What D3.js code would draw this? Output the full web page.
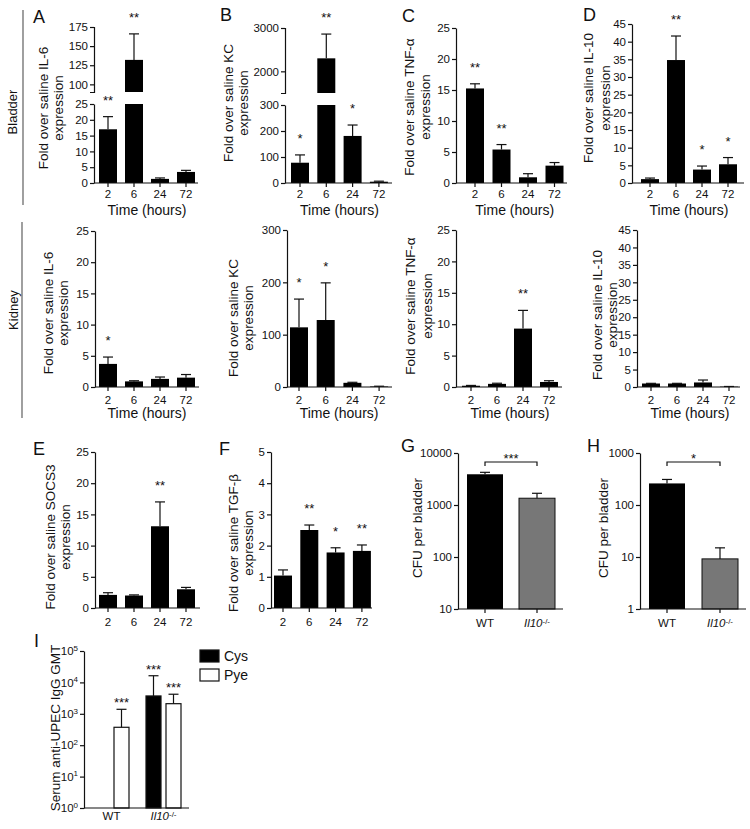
<!DOCTYPE html>
<html><head><meta charset="utf-8">
<script src="https://cdn.jsdelivr.net/npm/d3@7"></script>
<style>
body{margin:0;background:#fff}
svg{display:block}
text{font-family:"Liberation Sans",Arial,Helvetica,sans-serif;fill:#111}
</style>
</head><body><svg id="c" width="750" height="829"></svg>
<script>
// ---------------- DATA ----------------
const times = ["2","6","24","72"];
const timeTicks25 = [0,5,10,15,20,25];
const timeTicks45 = [0,5,10,15,20,25,30,35,40,45];
const ticksKC = [0,100,200,300];
const ticksIL6Upper = [100,125,150,175];
const ticksKCUpper = [2000,3000];
const ticksTGF = [0,1,2,3,4,5];

// Bladder
const bladderIL6 = [17.0, 132, 1.3, 3.5];
const bladderIL6Err = [21.0, 166, 1.6, 4.0];
const bladderIL6Sig = ["**","**","",""];
const bladderKC = [78, 2300, 181, 5];
const bladderKCErr = [108, 2860, 223, 7];
const bladderKCSig = ["*","**","*",""];
const bladderTNF = [15.25, 5.4, 0.92, 2.8];
const bladderTNFErr = [16.0, 6.2, 1.5, 3.3];
const bladderTNFSig = ["**","**","",""];
const bladderIL10 = [1.1, 34.8, 3.8, 5.3];
const bladderIL10Err = [1.4, 41.6, 4.8, 7.2];
const bladderIL10Sig = ["","**","*","*"];
// Kidney
const kidneyIL6 = [3.7, 0.9, 1.3, 1.5];
const kidneyIL6Err = [4.8, 1.0, 1.6, 2.0];
const kidneyIL6Sig = ["*","","",""];
const kidneyKC = [114, 128, 8, 1];
const kidneyKCErr = [168, 199, 9, 1.5];
const kidneyKCSig = ["*","*","",""];
const kidneyTNF = [0.2, 0.5, 9.3, 0.8];
const kidneyTNFErr = [0.25, 0.6, 12.2, 1.0];
const kidneyTNFSig = ["","","**",""];
const kidneyIL10 = [1.0, 1.0, 1.3, 0.1];
const kidneyIL10Err = [1.05, 1.05, 2.0, 0.15];
const kidneyIL10Sig = ["","","",""];
// E, F
const socs3 = [2.1, 2.0, 13.1, 3.0];
const socs3Err = [2.45, 2.1, 17.0, 3.3];
const socs3Sig = ["","","**",""];
const tgfb = [1.04, 2.5, 1.78, 1.83];
const tgfbErr = [1.22, 2.66, 1.93, 2.02];
const tgfbSig = ["","**","*","**"];
// G, H
const genotypes = ["WT","Il10"];
const cfuG = [3900, 1350];
const cfuGErr = [4250, 1680];
const cfuGSig = "***";
const cfuH = [260, 9.2];
const cfuHErr = [310, 15];
const cfuHSig = "*";
const ticksG = [10,100,1000,10000];
const ticksH = [1,10,100,1000];
// I
const isotypes = ["Cys","Pye"];
const gmtCys = [null, 3700];
const gmtCysErr = [null, 16300];
const gmtCysSig = ["","***"];
const gmtPye = [372, 2100];
const gmtPyeErr = [1390, 4200];
const gmtPyeSig = ["***","***"];
const ticksI = [1,10,100,1000,10000,100000];

// ---------------- DRAW ----------------
const svg = d3.select("#c");
const INK = "#111";
const SW = 1.2;
const FONT_TICK = 11.5, FONT_TITLE = 13.5, FONT_TIME = 14;
const fmtInt = d3.format("d");

function styleAxis(sel){
  sel.selectAll("path,line").attr("stroke", INK).attr("stroke-width", SW);
  sel.selectAll("text").attr("font-size", FONT_TICK).attr("fill", INK)
     .attr("font-family", '"Liberation Sans",Arial,sans-serif');
}

function rotTitle(g, lines, ax, dxs, cy){
  lines.forEach((t,i)=>{
    g.append("text").attr("transform", `translate(${ax+dxs[i]},${cy}) rotate(-90)`)
      .attr("text-anchor","middle").attr("dy","0.35em").attr("font-size", FONT_TITLE).text(t);
  });
}

function barPanel(o){
  const g = svg.append("g");
  const n = o.cats.length;
  const x = d3.scaleBand().domain(o.cats)
    .range([o.x0, o.x0 + (n-1)*o.step + o.bw])
    .paddingInner((o.step-o.bw)/o.step).paddingOuter(0);
  let lowY, hiY = null;
  if (o.brk){
    lowY = d3.scaleLinear().domain(o.brk.low).range([o.y0, o.brk.lowTop]);
    hiY = d3.scaleLinear().domain(o.brk.high).range([o.brk.hiBottom, o.brk.hiTop]);
  } else {
    lowY = (o.log ? d3.scaleLog() : d3.scaleLinear()).domain(o.domain).range([o.y0, o.yTop]);
  }
  const lowMax = lowY.domain()[1];
  const sc = v => (hiY && v > lowMax) ? hiY : lowY;
  const fills = o.fills || o.cats.map(()=>"#000");

  o.cats.forEach((c,i)=>{
    const v = o.values[i];
    if (v == null) return;
    const xc = x(c);
    if (hiY && v > lowMax){
      g.append("rect").attr("x", xc).attr("width", x.bandwidth())
        .attr("y", lowY(lowMax)).attr("height", o.y0 - lowY(lowMax)).attr("fill", fills[i]);
      g.append("rect").attr("x", xc).attr("width", x.bandwidth())
        .attr("y", hiY(v)).attr("height", hiY.range()[0] - hiY(v)).attr("fill", fills[i]);
    } else {
      g.append("rect").attr("x", xc).attr("width", x.bandwidth())
        .attr("y", lowY(v)).attr("height", o.y0 - lowY(v)).attr("fill", fills[i])
        .attr("stroke", fills[i] === "#000" ? null : INK).attr("stroke-width", fills[i] === "#000" ? null : 1);
    }
    const e = o.errs[i];
    const s = sc(v);
    const cx = xc + x.bandwidth()/2;
    const ey = sc(e)(e);
    g.append("line").attr("x1",cx).attr("x2",cx).attr("y1",s(v)).attr("y2",ey).attr("stroke",INK).attr("stroke-width",SW);
    const cw = o.capW || 5;
    g.append("line").attr("x1",cx-cw).attr("x2",cx+cw).attr("y1",ey).attr("y2",ey).attr("stroke",INK).attr("stroke-width",SW);
    if (o.sig && o.sig[i]){
      g.append("text").attr("x",cx).attr("y",ey - (o.starOff||12)).attr("text-anchor","middle")
        .attr("font-size",13).text(o.sig[i]);
    }
  });

  // y axis
  if (hiY){
    g.append("g").attr("transform",`translate(${o.ax},0)`)
      .call(d3.axisLeft(lowY).tickValues(o.ticks).tickFormat(fmtInt).tickSize(4).tickSizeOuter(0).tickPadding(2)).call(styleAxis);
    g.append("g").attr("transform",`translate(${o.ax},0)`)
      .call(d3.axisLeft(hiY).tickValues(o.brk.ticks).tickFormat(fmtInt).tickSize(4).tickSizeOuter(4).tickPadding(2)).call(styleAxis);
  } else {
    const ay = d3.axisLeft(lowY).tickValues(o.ticks).tickFormat(fmtInt).tickSize(4).tickSizeOuter(0).tickPadding(2);
    g.append("g").attr("transform",`translate(${o.ax},0)`).call(ay).call(styleAxis);
  }
  // x axis
  const xa = g.append("g").attr("transform",`translate(0,${o.y0})`)
    .call(d3.axisBottom(x).tickSize(4).tickSizeOuter(0).tickPadding(o.xpad||3)).call(styleAxis);
  xa.select(".domain").remove();
  if (o.genoLabels) genoText(xa);
  g.append("line").attr("x1",o.ax).attr("x2",o.xEnd).attr("y1",o.y0).attr("y2",o.y0)
    .attr("stroke",INK).attr("stroke-width",SW);

  rotTitle(g, o.title, o.ax, o.titleDx, o.titleCy);
  if (o.timeLabel){
    g.append("text").attr("x", o.x0 + ((n-1)*o.step + o.bw)/2).attr("y", o.timeY)
      .attr("text-anchor","middle").attr("font-size",FONT_TIME).text("Time (hours)");
  }
  if (o.letter){
    g.append("text").attr("x",o.letter[1]).attr("y",o.letter[2]).attr("font-size",18).text(o.letter[0]);
  }
  if (o.bracket){
    const [a,b] = o.cats.map(c=>x(c)+x.bandwidth()/2);
    const by = o.bracket;
    g.append("path").attr("d",`M${a},${by+4}V${by}H${b}V${by+4}`).attr("fill","none").attr("stroke",INK).attr("stroke-width",SW);
    g.append("text").attr("x",(a+b)/2).attr("y",by+1).attr("text-anchor","middle").attr("font-size",13).text(o.bracketSig);
  }
  return g;
}

function genoText(xa){
  xa.selectAll(".tick text").each(function(d){
    const t = d3.select(this);
    if (d === "Il10"){
      t.text("");
      t.append("tspan").attr("font-style","italic").text("Il10");
      t.append("tspan").attr("font-size",8).attr("dy","-0.45em").text("-/-");
    } else t.text(d);
  });
}

// Row labels
svg.append("line").attr("x1",23).attr("x2",23).attr("y1",10).attr("y2",205).attr("stroke","#888").attr("stroke-width",1.6);
svg.append("line").attr("x1",22).attr("x2",22).attr("y1",222).attr("y2",418).attr("stroke","#888").attr("stroke-width",1.6);
svg.append("text").attr("transform","translate(12,112) rotate(-90)").attr("text-anchor","middle").attr("dy","0.35em").attr("font-size",13).text("Bladder");
svg.append("text").attr("transform","translate(13,310) rotate(-90)").attr("text-anchor","middle").attr("dy","0.35em").attr("font-size",13).text("Kidney");

// Bladder row
barPanel({cats:times, values:bladderIL6, errs:bladderIL6Err, sig:bladderIL6Sig,
  ax:94, x0:99, step:26, bw:18, xEnd:198, y0:183, ticks:timeTicks25,
  brk:{low:[0,25], lowTop:104, high:[90,175], hiBottom:92, hiTop:27, ticks:ticksIL6Upper},
  title:["Fold over saline IL-6","expression"], titleDx:[-51,-36], titleCy:108,
  timeLabel:true, timeY:215, xpad:3, letter:["A",33,23]});
barPanel({cats:times, values:bladderKC, errs:bladderKCErr, sig:bladderKCSig,
  ax:285, x0:291, step:26.3, bw:18, xEnd:392, y0:183, ticks:ticksKC,
  brk:{low:[0,300], lowTop:105, high:[1500,3000], hiBottom:93, hiTop:28, ticks:ticksKCUpper},
  title:["Fold over saline KC","expression"], titleDx:[-57,-42], titleCy:103,
  timeLabel:true, timeY:215, xpad:3, letter:["B",220,21]});
barPanel({cats:times, values:bladderTNF, errs:bladderTNFErr, sig:bladderTNFSig,
  ax:456, x0:466, step:26.5, bw:18, xEnd:567, y0:183, yTop:28, domain:[0,25], ticks:timeTicks25,
  title:["Fold over saline TNF-\u03b1","expression"], titleDx:[-47,-31], titleCy:107,
  timeLabel:true, timeY:215, xpad:3, letter:["C",402,22]});
barPanel({cats:times, values:bladderIL10, errs:bladderIL10Err, sig:bladderIL10Sig,
  ax:632, x0:641, step:26, bw:18, xEnd:744, y0:183, yTop:24, domain:[0,45], ticks:timeTicks45,
  title:["Fold over saline IL-10","expression"], titleDx:[-44,-27], titleCy:98,
  timeLabel:true, timeY:215, xpad:3, letter:["D",583,21]});

// Kidney row
barPanel({cats:times, values:kidneyIL6, errs:kidneyIL6Err, sig:kidneyIL6Sig,
  ax:95, x0:99, step:26, bw:18, xEnd:199, y0:387, yTop:231, domain:[0,25], ticks:timeTicks25,
  title:["Fold over saline IL-6","expression"], titleDx:[-47,-32], titleCy:313,
  timeLabel:true, timeY:418, xpad:5});
barPanel({cats:times, values:kidneyKC, errs:kidneyKCErr, sig:kidneyKCSig,
  ax:287, x0:290, step:26.7, bw:18, xEnd:392, y0:387, yTop:230, domain:[0,300], ticks:ticksKC,
  title:["Fold over saline KC","expression"], titleDx:[-54,-39], titleCy:318,
  timeLabel:true, timeY:418, xpad:5});
barPanel({cats:times, values:kidneyTNF, errs:kidneyTNFErr, sig:kidneyTNFSig,
  ax:456, x0:462, step:26, bw:18, xEnd:562, y0:387, yTop:230, domain:[0,25], ticks:timeTicks25,
  title:["Fold over saline TNF-\u03b1","expression"], titleDx:[-46,-29], titleCy:306,
  timeLabel:true, timeY:418, xpad:5});
barPanel({cats:times, values:kidneyIL10, errs:kidneyIL10Err, sig:kidneyIL10Sig,
  ax:637, x0:642, step:26, bw:18, xEnd:740, y0:387, yTop:230, domain:[0,45], ticks:timeTicks45,
  title:["Fold over saline IL-10","expression"], titleDx:[-40,-25], titleCy:315,
  timeLabel:true, timeY:418, xpad:5});

// Row 3
barPanel({cats:times, values:socs3, errs:socs3Err, sig:socs3Sig,
  ax:95, x0:99, step:26, bw:18, xEnd:200, y0:608, yTop:452, domain:[0,25], ticks:timeTicks25,
  title:["Fold over saline SOCS3","expression"], titleDx:[-45,-30], titleCy:537,
  xpad:6, letter:["E",33,455]});
barPanel({cats:times, values:tgfb, errs:tgfbErr, sig:tgfbSig,
  ax:271, x0:274, step:26.3, bw:18, xEnd:372, y0:608, yTop:452, domain:[0,5], ticks:ticksTGF,
  title:["Fold over saline TGF-\u03b2","expression"], titleDx:[-38,-23], titleCy:543,
  xpad:6, letter:["F",219,455]});
barPanel({cats:genotypes, values:cfuG, errs:cfuGErr, fills:["#000","#777"],
  ax:458, x0:467, step:52, bw:36, xEnd:563, y0:609, yTop:453, domain:[10,10000], log:true, ticks:ticksG,
  title:["CFU per bladder"], titleDx:[-41], titleCy:528, xpad:6, genoLabels:true,
  bracket:462, bracketSig:cfuGSig, letter:["G",401,452]});
barPanel({cats:genotypes, values:cfuH, errs:cfuHErr, fills:["#000","#777"],
  ax:640, x0:649, step:53, bw:36, xEnd:746, y0:609, yTop:453, domain:[1,1000], log:true, ticks:ticksH,
  title:["CFU per bladder"], titleDx:[-37], titleCy:528, xpad:6, genoLabels:true,
  bracket:462, bracketSig:cfuHSig, letter:["H",587,452]});

// Panel I: grouped log bars
(function(){
  const g = svg.append("g");
  const ax = 84, y0 = 808, yTop = 651, xEnd = 189;
  const x = d3.scaleBand().domain(genotypes).range([94, 94+52+35]).paddingInner(17/52).paddingOuter(0);
  const xi = d3.scaleBand().domain(isotypes).range([0, x.bandwidth()]).paddingInner(0.25).paddingOuter(0);
  const y = d3.scaleLog().domain([1,100000]).range([y0,yTop]);
  const series = {Cys:{v:gmtCys,e:gmtCysErr,s:gmtCysSig,fill:"#000"}, Pye:{v:gmtPye,e:gmtPyeErr,s:gmtPyeSig,fill:"#fff"}};
  genotypes.forEach((gt,gi)=>{
    isotypes.forEach(iso=>{
      const S = series[iso]; const v = S.v[gi];
      if (v == null) return;
      const bx = x(gt)+xi(iso), cx = bx + xi.bandwidth()/2;
      g.append("rect").attr("x",bx).attr("width",xi.bandwidth()).attr("y",y(v)).attr("height",y0-y(v))
        .attr("fill",S.fill).attr("stroke",INK).attr("stroke-width",SW);
      const ey = y(S.e[gi]);
      g.append("line").attr("x1",cx).attr("x2",cx).attr("y1",y(v)).attr("y2",ey).attr("stroke",INK).attr("stroke-width",SW);
      g.append("line").attr("x1",cx-5).attr("x2",cx+5).attr("y1",ey).attr("y2",ey).attr("stroke",INK).attr("stroke-width",SW);
      if (S.s[gi]) g.append("text").attr("x",cx).attr("y",ey-2).attr("text-anchor","middle").attr("font-size",13).text(S.s[gi]);
    });
  });
  const ya = g.append("g").attr("transform",`translate(${ax},0)`)
    .call(d3.axisLeft(y).tickValues(ticksI).tickSize(4).tickSizeOuter(0).tickPadding(2)).call(styleAxis);
  ya.selectAll(".tick text").each(function(d){
    const t = d3.select(this); t.text("");
    t.append("tspan").text("10");
    t.append("tspan").attr("font-size",8).attr("dy","-0.55em").text(String(Math.round(Math.log10(d))));
  });
  const xa = g.append("g").attr("transform",`translate(0,${y0})`)
    .call(d3.axisBottom(x).tickSize(0).tickSizeOuter(0).tickPadding(4)).call(styleAxis);
  xa.select(".domain").remove();
  genoText(xa);
  g.append("line").attr("x1",ax).attr("x2",xEnd).attr("y1",y0).attr("y2",y0).attr("stroke",INK).attr("stroke-width",SW);
  g.append("text").attr("transform",`translate(${ax-29},728) rotate(-90)`).attr("text-anchor","middle").attr("dy","0.35em")
    .attr("font-size",FONT_TITLE).text("Serum anti-UPEC IgG GMT");
  g.append("text").attr("x",34).attr("y",647).attr("font-size",18).text("I");
  // legend
  const leg = g.append("g").attr("transform","translate(200,650)");
  isotypes.forEach((iso,i)=>{
    leg.append("rect").attr("x",0).attr("y",i*19).attr("width",19).attr("height",12)
      .attr("fill",series[iso].fill).attr("stroke",INK).attr("stroke-width",SW);
    leg.append("text").attr("x",24).attr("y",i*19+6).attr("dy","0.35em").attr("font-size",14).text(iso);
  });
})();
</script>
</body></html>
